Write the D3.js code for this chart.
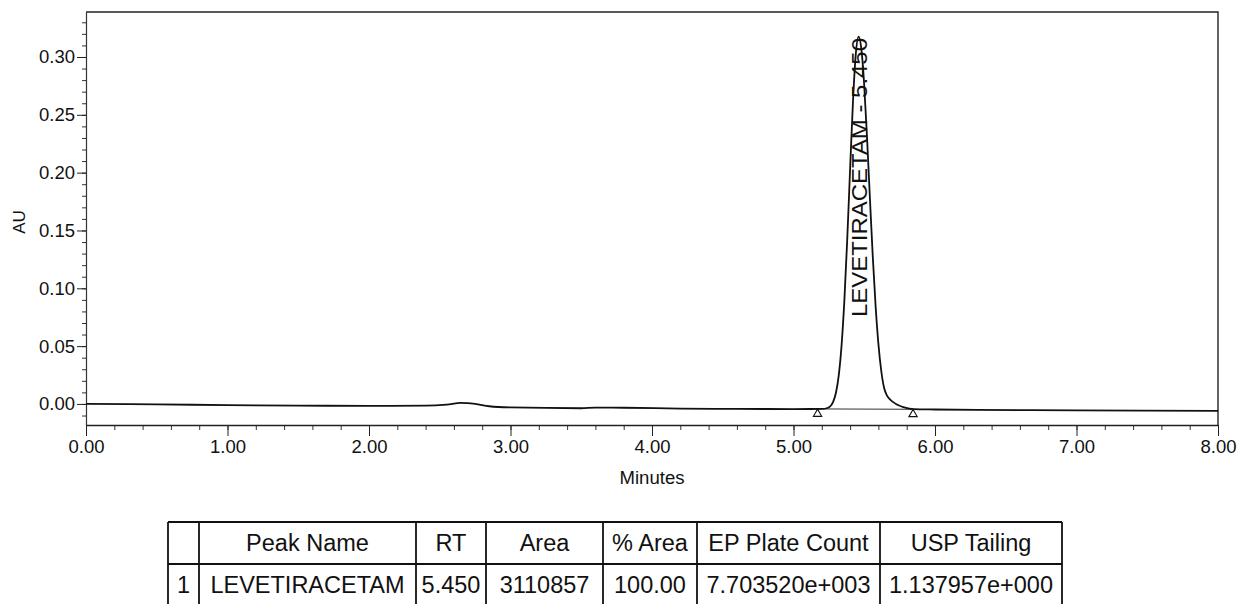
<!DOCTYPE html>
<html>
  <head>
    <title>Levetiracetam chromatogram</title>
    <meta charset="utf-8">
    <style>
      body { margin: 0; background-color: #fff; }
      svg { display: block; font-family: "Liberation Sans", Arial, sans-serif; }
      .tick text { fill: #111; }
    </style>
    <script src="https://cdn.jsdelivr.net/npm/d3@7"></script>
  </head>
  <body>
    <div id="chart"></div>
    <script>
      // trace (minutes, AU)
      var minutes = [0.00, 0.50, 1.00, 1.50, 2.00, 2.40, 2.55, 2.65, 2.75, 2.85, 3.00, 3.50, 3.60, 3.80, 4.20, 4.60, 5.00,
        5.20, 5.24, 5.26, 5.28, 5.30, 5.32, 5.34, 5.36, 5.38, 5.40, 5.42, 5.44, 5.46, 5.48, 5.50, 5.52, 5.54, 5.56,
        5.58, 5.60, 5.62, 5.64, 5.66, 5.68, 5.70, 5.73, 5.77, 5.81, 5.85, 6.00, 6.30, 7.00, 8.00];
      var au = [0.0000, -0.0004, -0.0010, -0.0014, -0.0017, -0.0015, -0.0005, 0.0009, 0.0000, -0.0020, -0.0030, -0.0037, -0.0032, -0.0033, -0.0040, -0.0043, -0.0044,
        -0.0043, -0.0035, -0.0020, 0.0018, 0.0097, 0.0250, 0.0511, 0.0906, 0.1430, 0.2031, 0.2605, 0.3022, 0.3176, 0.3063, 0.2749, 0.2294, 0.1779, 0.1280,
        0.0851, 0.0520, 0.0287, 0.0140, 0.0075, 0.0042, 0.0020, -0.0005, -0.0025, -0.0038, -0.0045, -0.0048, -0.0052, -0.0055, -0.0060];

      var peakName = "LEVETIRACETAM";
      var peakRT = 5.450;
      var peakApex = 5.46;
      var peakStart = [5.17, -0.0043];
      var peakEnd = [5.845, -0.0046];

      var yTicks = [0.00, 0.05, 0.10, 0.15, 0.20, 0.25, 0.30];
      var xTicks = [0, 1, 2, 3, 4, 5, 6, 7, 8];

      var tableHeader = ["", "Peak Name", "RT", "Area", "% Area", "EP Plate Count", "USP Tailing"];
      var tableRow = ["1", "LEVETIRACETAM", "5.450", "3110857", "100.00", "7.703520e+003", "1.137957e+000"];
      var colEdges = [168, 199, 416, 486, 603, 697, 880, 1062];

      var W = 1238, H = 604;
      var L = 86, R = 1218, T = 12, B = 425;

      var svg = d3.select('#chart').append('svg').attr('width', W).attr('height', H);

      var x = d3.scaleLinear().domain([0, 8]).range([L, R]);
      var y = d3.scaleLinear().domain([-0.0182, 0.3389]).range([B, T]);

      // frame
      svg.append('path')
        .attr('d', 'M' + L + ',' + T + 'H' + R + 'V' + B)
        .attr('fill', 'none').attr('stroke', '#222').attr('stroke-width', 1.4);

      // minor ticks
      var yMinor = d3.range(-1, 34).map(function(d) { return d / 100; });
      var xMinor = d3.range(0, 41).map(function(d) { return d / 5; });

      svg.append('g').attr('transform', 'translate(' + L + ',0)')
        .call(d3.axisLeft(y).tickValues(yMinor).tickSize(4).tickFormat(''))
        .call(function(g) { g.select('.domain').remove(); g.selectAll('line').attr('stroke', '#333'); });
      svg.append('g').attr('transform', 'translate(0,' + B + ')')
        .call(d3.axisBottom(x).tickValues(xMinor).tickSize(5).tickFormat(''))
        .call(function(g) { g.select('.domain').remove(); g.selectAll('line').attr('stroke', '#333'); });

      // major axes
      var yAxis = svg.append('g').attr('transform', 'translate(' + L + ',0)')
        .call(d3.axisLeft(y).tickValues(yTicks).tickSize(9).tickSizeOuter(0).tickPadding(2).tickFormat(d3.format('.2f')));
      yAxis.select('.domain').attr('stroke', '#333').attr('stroke-width', 1.2);
      yAxis.selectAll('line').attr('stroke', '#222');
      yAxis.selectAll('text').attr('font-size', 18.5);

      var xAxis = svg.append('g').attr('transform', 'translate(0,' + B + ')')
        .call(d3.axisBottom(x).tickValues(xTicks).tickSize(11).tickSizeOuter(0).tickPadding(4).tickFormat(d3.format('.2f')));
      xAxis.select('.domain').attr('stroke', '#222').attr('stroke-width', 1.6);
      xAxis.selectAll('line').attr('stroke', '#222');
      xAxis.selectAll('text').attr('font-size', 18.5);

      svg.append('text').attr('x', (L + R) / 2).attr('y', 484)
        .attr('text-anchor', 'middle').attr('font-size', 18).attr('fill', '#111')
        .attr('textLength', 65).attr('lengthAdjust', 'spacingAndGlyphs').text('Minutes');
      svg.append('text').attr('transform', 'translate(25,222) rotate(-90)')
        .attr('text-anchor', 'middle').attr('font-size', 17).attr('fill', '#111').text('AU');

      // integration baseline + markers
      svg.append('line')
        .attr('x1', x(peakStart[0])).attr('y1', y(peakStart[1]))
        .attr('x2', x(peakEnd[0])).attr('y2', y(peakEnd[1]))
        .attr('stroke', '#333').attr('stroke-width', 1);
      var tri = d3.symbol().type(d3.symbolTriangle).size(30);
      svg.selectAll('path.mark').data([peakStart, peakEnd]).enter().append('path')
        .attr('class', 'mark')
        .attr('d', tri)
        .attr('transform', function(d) { return 'translate(' + x(d[0]) + ',' + (y(d[1]) + 5) + ')'; })
        .attr('fill', '#fff').attr('stroke', '#111').attr('stroke-width', 1.1);

      // trace
      var pts = minutes.map(function(m, i) { return [m, au[i]]; });
      var line = d3.line().x(function(d) { return x(d[0]); }).y(function(d) { return y(d[1]); })
        .curve(d3.curveMonotoneX);
      svg.append('path').datum(pts).attr('d', line)
        .attr('fill', 'none').attr('stroke', '#111').attr('stroke-width', 1.8).attr('stroke-linejoin', 'round');

      // peak label
      svg.append('text')
        .attr('transform', 'translate(' + (x(peakApex) + 8) + ',317) rotate(-90)')
        .attr('font-size', 22).attr('fill', '#111')
        .attr('textLength', 279).attr('lengthAdjust', 'spacingAndGlyphs')
        .text(peakName + ' - ' + peakRT.toFixed(3));

      // results table
      var rowY = [522, 564, 606];
      var tbl = svg.append('g');
      [tableHeader, tableRow].forEach(function(row, r) {
        row.forEach(function(cell, c) {
          tbl.append('text')
            .attr('x', (colEdges[c] + colEdges[c + 1]) / 2)
            .attr('y', (rowY[r] + rowY[r + 1]) / 2 + 8)
            .attr('text-anchor', 'middle').attr('font-size', 23.5).attr('fill', '#111')
            .text(cell);
        });
      });
      rowY.forEach(function(yy) {
        tbl.append('line').attr('x1', colEdges[0]).attr('x2', colEdges[colEdges.length - 1])
          .attr('y1', yy).attr('y2', yy).attr('stroke', '#111').attr('stroke-width', 2);
      });
      colEdges.forEach(function(xx) {
        tbl.append('line').attr('x1', xx).attr('x2', xx)
          .attr('y1', rowY[0]).attr('y2', rowY[2]).attr('stroke', '#111').attr('stroke-width', 1.8);
      });
    </script>
  </body>
</html>
